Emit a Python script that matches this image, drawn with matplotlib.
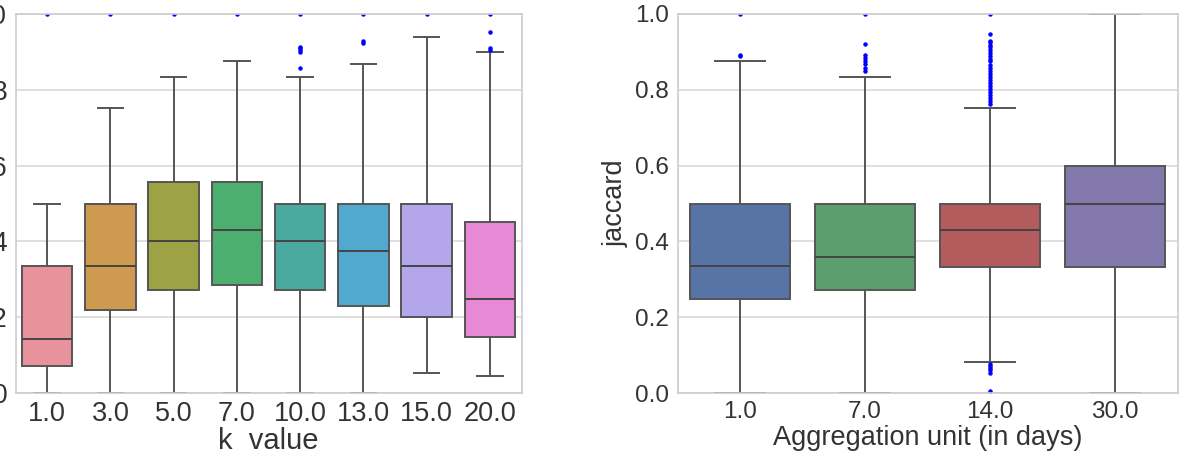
import matplotlib.pyplot as plt

plt.rcParams['font.family'] = ['Liberation Sans', 'DejaVu Sans']

# left panel: k value
k_labels = ['1.0', '3.0', '5.0', '7.0', '10.0', '13.0', '15.0', '20.0']
k_whislo = [0.0, 0.0, 0.0, 0.0, 0.0, 0.0, 0.053, 0.046]
k_q1 = [0.070, 0.220, 0.271, 0.284, 0.271, 0.230, 0.200, 0.149]
k_med = [0.142, 0.334, 0.400, 0.430, 0.400, 0.375, 0.334, 0.249]
k_q3 = [0.334, 0.500, 0.556, 0.556, 0.500, 0.500, 0.500, 0.451]
k_whishi = [0.500, 0.751, 0.834, 0.876, 0.834, 0.867, 0.938, 0.900]
k_fliers = [
    [1.0],
    [1.0],
    [1.0],
    [1.0],
    [1.0, 0.914, 0.909, 0.904, 0.899, 0.857],
    [1.0, 0.929, 0.924],
    [1.0],
    [1.0, 0.952, 0.910, 0.905],
]
k_colors = ['#E8939C', '#CD9A50', '#9DA345', '#4DAF6F', '#4AAAA0',
            '#52A9CF', '#B3A6EA', '#E78AD6']

# right panel: aggregation unit
agg_labels = ['1.0', '7.0', '14.0', '30.0']
agg_whislo = [0.0, 0.0, 0.083, 0.0]
agg_q1 = [0.249, 0.272, 0.332, 0.333]
agg_med = [0.334, 0.358, 0.429, 0.500]
agg_q3 = [0.500, 0.500, 0.500, 0.600]
agg_whishi = [0.876, 0.834, 0.751, 1.0]
agg_fliers = [
    [1.0, 0.893, 0.888],
    [1.0, 0.922, 0.893, 0.885, 0.877, 0.868, 0.857, 0.849],
    [1.0, 0.948, 0.930, 0.925, 0.918, 0.912, 0.905, 0.897, 0.889, 0.882,
     0.875, 0.866, 0.858, 0.850, 0.842, 0.835, 0.826, 0.818, 0.810, 0.802,
     0.795, 0.787, 0.779, 0.771, 0.763, 0.077, 0.072, 0.066, 0.060, 0.053,
     0.005],
    [],
]
agg_colors = ['#5873A5', '#5D9E6E', '#B45B5E', '#8479AC']


def make_stats(labels, lo, q1, med, q3, hi, fl):
    stats = []
    for i in range(len(labels)):
        stats.append({'label': labels[i], 'whislo': lo[i], 'q1': q1[i],
                      'med': med[i], 'q3': q3[i], 'whishi': hi[i],
                      'fliers': fl[i]})
    return stats


def draw(ax, stats, colors, fs):
    line = dict(color='#555555', linewidth=1.4)
    bp = ax.bxp(stats, widths=0.8, patch_artist=True,
                boxprops=dict(edgecolor='#555555', linewidth=1.4),
                whiskerprops=line, capprops=line,
                medianprops=dict(color='#444444', linewidth=1.4),
                flierprops=dict(marker='o', markerfacecolor='blue',
                                markeredgecolor='blue', markersize=2.2,
                                linestyle='none'))
    for patch, c in zip(bp['boxes'], colors):
        patch.set_facecolor(c)
    ax.set_ylim(0, 1)
    ax.set_xlim(0.5, len(stats) + 0.5)
    ax.set_yticks([0.0, 0.2, 0.4, 0.6, 0.8, 1.0])
    ax.set_yticklabels(['0.0', '0.2', '0.4', '0.6', '0.8', '1.0'])
    ax.yaxis.grid(True, color='#DDDDDD', linewidth=1.3)
    ax.xaxis.grid(False)
    ax.set_axisbelow(True)
    for s in ax.spines.values():
        s.set_color('#CCCCCC')
        s.set_linewidth(1.2)
    ax.tick_params(length=0, labelsize=fs, colors='#333333', pad=6)


fig = plt.figure(figsize=(11.83, 4.59), dpi=100)
ax1 = fig.add_axes([15.5 / 1183, 1 - 393 / 459, (521.5 - 15.5) / 1183, 379 / 459])
ax2 = fig.add_axes([677.5 / 1183, 1 - 393 / 459, (1177.5 - 677.5) / 1183, 379 / 459])

draw(ax1, make_stats(k_labels, k_whislo, k_q1, k_med, k_q3, k_whishi, k_fliers), k_colors, 19.5)
ax1.set_xlabel('k  value', fontsize=21, color='#333333', labelpad=0)

draw(ax2, make_stats(agg_labels, agg_whislo, agg_q1, agg_med, agg_q3, agg_whishi, agg_fliers), agg_colors, 17.5)
ax2.set_xlabel('Aggregation unit (in days)', fontsize=19.5, color='#333333', labelpad=1)
ax2.set_ylabel('jaccard', fontsize=19.5, color='#333333', labelpad=5)

fig.savefig('out.png', dpi=100)
